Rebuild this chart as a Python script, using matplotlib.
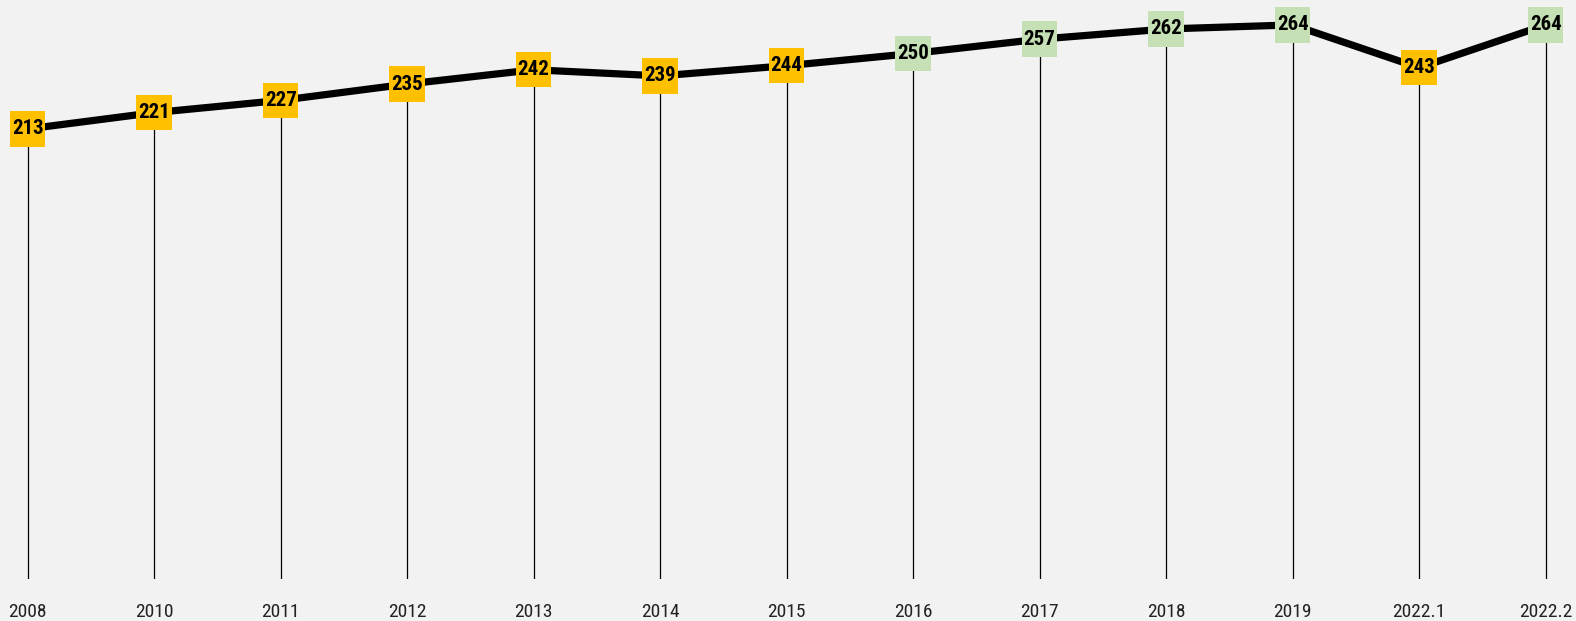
import matplotlib.pyplot as plt
from matplotlib import font_manager

years = ['2008', '2010', '2011', '2012', '2013', '2014', '2015',
         '2016', '2017', '2018', '2019', '2022.1', '2022.2']
values = [213, 221, 227, 235, 242, 239, 244, 250, 257, 262, 264, 243, 264]
# which points get the green box, the rest are yellow
highlight = [False, False, False, False, False, False, False,
             True, True, True, True, False, True]

yellow = '#ffc000'
green = '#c5e0b4'
bg = '#f2f2f2'

# pick a narrow font if one is there
names = {f.name for f in font_manager.fontManager.ttflist}
fam, stretch = 'DejaVu Sans', 'condensed'
for n in ['Roboto Condensed', 'Liberation Sans Narrow', 'Open Sans Condensed', 'DejaVu Sans Condensed']:
    if n in names:
        fam, stretch = n, 'normal'
        break

fig = plt.figure(figsize=(15.76, 6.21), dpi=100, facecolor=bg)
ax = fig.add_axes([0, 42 / 621, 1, 579 / 621])
ax.set_facecolor(bg)

x = list(range(len(years)))
ax.set_xlim(-0.219, 12.24)
ax.set_ylim(-7.6, 276.2)

ax.vlines(x, ax.get_ylim()[0], values, color='black', lw=0.9, zorder=1)
ax.plot(x, values, color='black', lw=5.2, solid_capstyle='butt', zorder=2)

box_colors = [green if h else yellow for h in highlight]
ax.scatter(x, values, marker='s', s=25.5 ** 2, c=box_colors, linewidths=0, zorder=3)

for xi, v in zip(x, values):
    ax.text(xi, v, str(v), ha='center', va='center', fontsize=15,
            fontweight='bold', family=fam, fontstretch=stretch, color='black', zorder=4)

ax.set_xticks(x)
ax.set_xticklabels(years, fontsize=14, family=fam, fontstretch=stretch, color='#222222')
ax.tick_params(axis='x', length=0, pad=17)
ax.set_yticks([])
for s in ax.spines.values():
    s.set_visible(False)

fig.savefig('out.png', dpi=100, facecolor=bg)
